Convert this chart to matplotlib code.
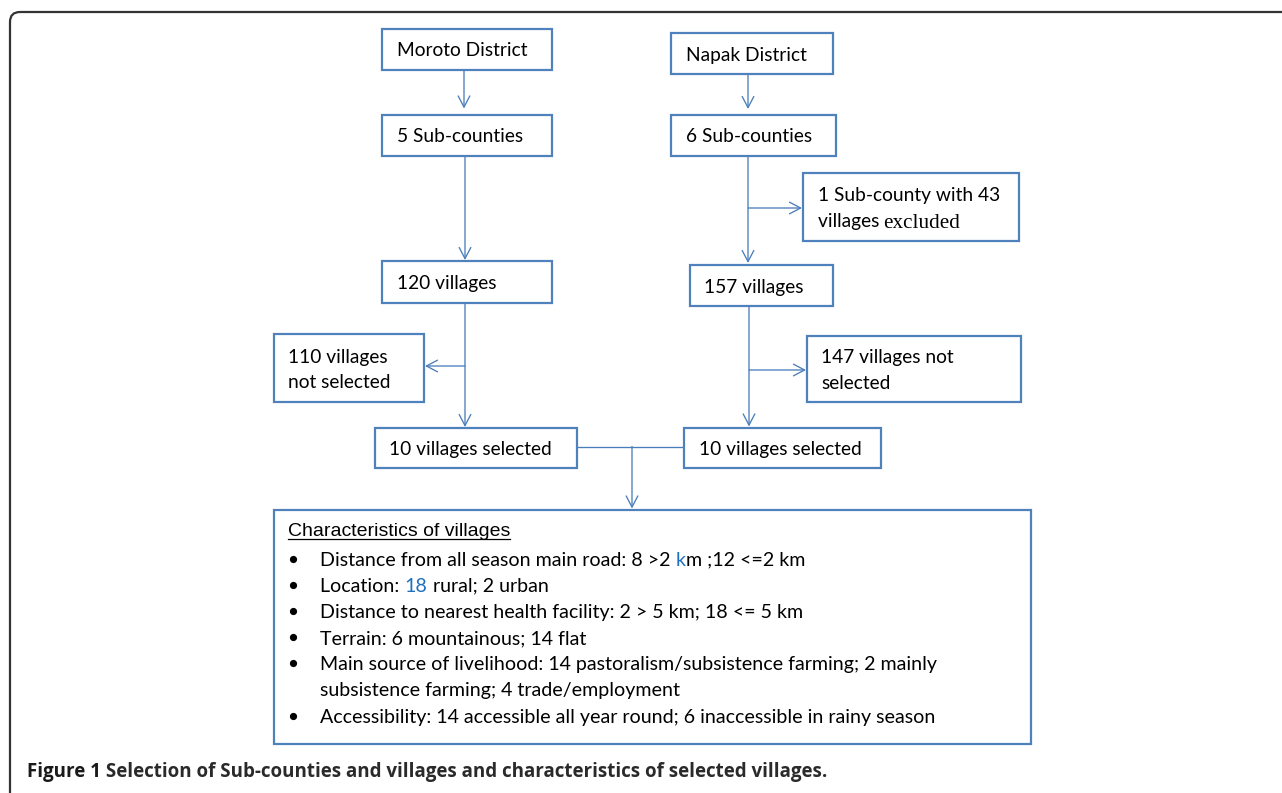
import matplotlib
matplotlib.use('Agg')
import matplotlib.pyplot as plt
from matplotlib.patches import Rectangle, FancyBboxPatch

# ---------------- content ----------------
district_labels = ['Moroto District', 'Napak District']
subcounty_labels = ['5 Sub-counties', '6 Sub-counties']
village_labels = ['120 villages', '157 villages']
not_selected_left = ['110 villages', 'not selected']
not_selected_right = ['147 villages not', 'selected']
excluded_lines = ['1 Sub-county with 43', 'villages']
excluded_word = 'excluded'
selected_labels = ['10 villages selected', '10 villages selected']
char_title = 'Characteristics of villages'
char_lines = [
    [('Distance from all season main road: 8 >2 ', 'k'), ('k', 'b'), ('m ;12 <=2 km', 'k')],
    [('Location: ', 'k'), ('18', 'b'), (' rural; 2 urban', 'k')],
    [('Distance to nearest health facility: 2 > 5 km; 18 <= 5 km', 'k')],
    [('Terrain: 6 mountainous; 14 flat', 'k')],
    [('Main source of livelihood: 14 pastoralism/subsistence farming; 2 mainly', 'k')],
    [('subsistence farming; 4 trade/employment', 'k')],
    [('Accessibility: 14 accessible all year round; 6 inaccessible in rainy season', 'k')],
]
char_bullets = [True, True, True, True, True, False, True]
caption_bold = 'Figure 1'
caption_rest = ' Selection of Sub-counties and villages and characteristics of selected villages.'

# ---------------- style ----------------
W, H = 1282, 793
EDGE = '#4F81BD'
LINE = '#4A7EBB'
TBLUE = '#1F70C1'
FRAME = '#333333'
BOXFONT = ['Lato', 'DejaVu Sans']
NARROW = ['Liberation Sans Narrow', 'Liberation Sans', 'DejaVu Sans']
SERIF = ['Liberation Serif', 'DejaVu Serif']
CAPFONT = ['Open Sans', 'DejaVu Sans']

fig = plt.figure(figsize=(W / 100, H / 100), dpi=100)
ax = fig.add_axes([0, 0, 1, 1])
ax.set_xlim(0, W)
ax.set_ylim(H, 0)
ax.axis('off')
renderer = fig.canvas.get_renderer()


def width(s, **kw):
    t1 = ax.text(0, 0, '|' + s + '|', **kw)
    t2 = ax.text(0, 0, '||', **kw)
    w = t1.get_window_extent(renderer).width - t2.get_window_extent(renderer).width
    t1.remove()
    t2.remove()
    return w


def fit_size(s, target, **kw):
    w = width(s, fontsize=10, **kw)
    return 10 * target / w


BOX_FS = fit_size(district_labels[0], 132, family=BOXFONT)
CHAR_FS = fit_size(char_lines[0][0][0] + 'km ;12 <=2 km', 483, family=BOXFONT)
TITLE_FS = fit_size(char_title, 222, family=NARROW)


def box(x0, y0, x1, y1, lw=1.6):
    ax.add_patch(Rectangle((x0, y0), x1 - x0, y1 - y0, fill=False,
                           edgecolor=EDGE, linewidth=lw, zorder=3))


def line(xs, ys):
    ax.plot(xs, ys, color=LINE, lw=0.95, solid_capstyle='butt', zorder=2)


def arrow(x0, y0, x1, y1):
    ax.annotate('', xy=(x1, y1), xytext=(x0, y0),
                arrowprops=dict(arrowstyle='->,head_length=0.8,head_width=0.42',
                                color=LINE, lw=0.95, shrinkA=0, shrinkB=0),
                zorder=2)


def label(x, y, s, fs=None, family=None, **kw):
    ax.text(x, y, s, fontsize=fs or BOX_FS, family=family or BOXFONT,
            color='black', ha='left', va='baseline', **kw)


def runs(x, y, parts):
    for s, kw in parts:
        ax.text(x, y, s, ha='left', va='baseline', **kw)
        x += width(s, **kw)
    return x


# outer rounded frame (extends past the right/bottom edges)
ax.add_patch(FancyBboxPatch((10, 12), 1400, 900,
                            boxstyle='round,pad=0,rounding_size=10',
                            fill=False, edgecolor=FRAME, linewidth=1.6, zorder=1))

# ---------------- left column (Moroto) ----------------
box(382, 29, 552, 70)
label(397, 56.5, district_labels[0])
arrow(464, 70, 464, 108.5)
box(382, 115, 552, 156)
label(397, 142.5, subcounty_labels[0])
arrow(465, 156, 465, 260)
box(382, 261, 552, 302.5)
label(397, 289, village_labels[0])
arrow(465, 302.5, 465, 427)
arrow(465, 366, 425, 366)
box(273.5, 334, 424, 401.5)
label(288.5, 362.5, not_selected_left[0])
label(288.5, 388.5, not_selected_left[1])
box(374.5, 427.5, 577, 467.5)
label(389, 455, selected_labels[0])

# ---------------- right column (Napak) ----------------
box(670.5, 32.5, 833, 73.5)
label(685.5, 60.5, district_labels[1])
arrow(748, 73.5, 748, 109)
box(670.5, 115, 836, 156)
label(685.5, 142.5, subcounty_labels[1])
arrow(748, 156, 748, 263)
arrow(748, 208, 802, 208)
box(803, 173, 1019, 240.5)
label(818, 201.5, excluded_lines[0])
xe = runs(818, 227.5, [(excluded_lines[1] + ' ', dict(fontsize=BOX_FS, family=BOXFONT, color='black'))])
label(xe - 1, 227.5, excluded_word, fs=BOX_FS * 1.1, family=SERIF)
box(689.5, 265, 833, 306)
label(704.5, 292.5, village_labels[1])
arrow(749, 306, 749, 426.5)
arrow(749, 370, 806, 370)
box(807, 335.5, 1020.5, 402)
label(821, 363, not_selected_right[0])
label(821, 389, not_selected_right[1])
box(684, 427.5, 881, 467.5)
label(699, 455, selected_labels[1])

# ---------------- merge ----------------
line([577, 684], [446.5, 446.5])
arrow(632, 446.5, 632, 508.5)

# ---------------- characteristics ----------------
box(273.5, 510, 1031, 744)
label(288, 535.5, char_title, fs=TITLE_FS, family=NARROW)
tw = width(char_title, fontsize=TITLE_FS, family=NARROW)
ax.plot([288, 288 + tw], [539, 539], color='black', lw=0.9, zorder=4)

base0, step = 565.7, 26.15
for i, (parts, bullet) in enumerate(zip(char_lines, char_bullets)):
    yb = base0 + i * step
    if bullet:
        ax.plot([292.5], [yb - 7], marker='o', ms=5.2, color='black', mew=0, zorder=4)
    runs(320.5, yb, [(s, dict(fontsize=CHAR_FS, family=BOXFONT,
                              color=(TBLUE if c == 'b' else 'black')))
                     for s, c in parts])

# ---------------- caption ----------------
w_b = width(caption_bold, fontsize=10, family=CAPFONT, weight='bold')
w_r = width(caption_rest, fontsize=10, family=CAPFONT, weight='bold')
CAP_FS = 10 * 804 / (w_b + w_r)
runs(27, 777, [(caption_bold, dict(fontsize=CAP_FS, family=CAPFONT, weight='bold', color='#1a1a1a')),
               (caption_rest, dict(fontsize=CAP_FS, family=CAPFONT, weight='bold', color='#2a2a2a'))])

fig.savefig('out.png', dpi=100)
